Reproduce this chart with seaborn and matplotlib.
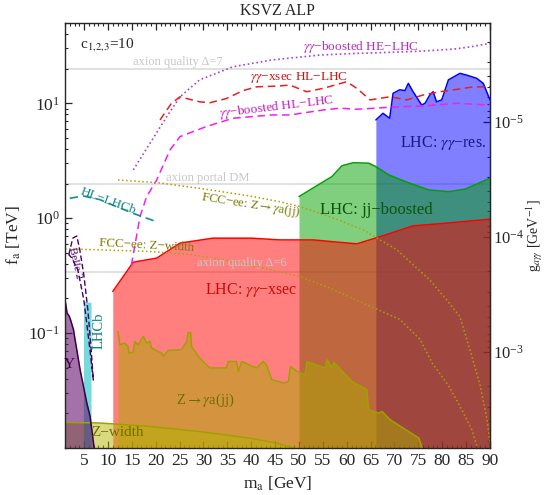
import numpy as np
import matplotlib.pyplot as plt
import matplotlib.ticker as mticker
import seaborn as sns

sns.set_style("ticks")
plt.rcParams['font.family'] = ['Liberation Serif', 'DejaVu Serif']
plt.rcParams['mathtext.fontset'] = 'stix'
plt.rcParams['axes.unicode_minus'] = True

# ---- data (m_a in GeV, f_a in TeV) ----
# LHC: gamma gamma resonance
blue_x = [66.1, 67.6, 69.0, 69.7, 71.1, 72.2, 72.9, 73.9, 75.7, 76.4, 77.4, 78.1, 78.8, 79.9, 81.3, 83.7, 85.1, 87.2, 88.6, 90.0]
blue_f = [7.16, 8.18, 7.41, 12.2, 13.1, 12.9, 14.9, 12.6, 9.66, 10.0, 11.8, 12.6, 10.3, 10.7, 16.0, 18.2, 17.6, 16.5, 14.9, 10.7]

# LHC: jj boosted
green_x = [50.0, 53.4, 56.9, 59.0, 61.4, 64.6, 66.1, 68.8, 72.3, 77.2, 81.4, 84.8, 87.6, 90.0]
green_f = [1.54, 1.88, 2.30, 2.86, 3.04, 3.01, 2.81, 2.38, 2.08, 1.76, 1.70, 1.79, 2.01, 2.23]

# LHC: gamma gamma xsec
red_x = [11.0, 15.3, 20.2, 25.1, 32.0, 40.0, 46.0, 53.0, 56.5, 62.1, 67.0, 73.9, 80.9, 90.0]
red_f = [0.23, 0.414, 0.449, 0.607, 0.67, 0.67, 0.647, 0.647, 0.627, 0.598, 0.69, 0.857, 0.905, 0.98]

# Z -> gamma a(jj)
zga_x = [12.1, 12.5, 13.5, 14.2, 14.4, 15.3, 15.6, 16.3, 17.4, 18.1, 18.8, 19.1, 21.2, 21.6, 22.6, 25.4,
         26.5, 26.8, 27.3, 27.5, 29.2, 31.3, 34.8, 35.2, 36.9, 37.3, 38.0, 41.1, 42.5, 43.2, 44.3, 46.8,
         47.8, 48.2, 49.6, 51.3, 51.7, 55.5, 55.9, 56.9, 57.3, 61.1, 64.2, 64.6, 66.7, 67.4, 69.1, 75.1, 75.8]
zga_f = [0.1033, 0.0791, 0.0818, 0.0764, 0.0670, 0.0678, 0.0845, 0.0791, 0.0933, 0.0818, 0.0845, 0.0741,
         0.0670, 0.0627, 0.0706, 0.0716, 0.0845, 0.1012, 0.1012, 0.0764, 0.0607, 0.0497, 0.0497, 0.0566,
         0.0566, 0.0463, 0.0566, 0.0497, 0.0566, 0.0530, 0.0393, 0.0367, 0.0379, 0.0513, 0.0463, 0.0434,
         0.0566, 0.0497, 0.0586, 0.0497, 0.0556, 0.0379, 0.0321, 0.0215, 0.0201, 0.0208, 0.0176, 0.0122, 0.0100]

# Z width
zw_x = [1.0, 8.3, 18.8, 29.2, 39.7, 45.3, 49.0]
zw_f = [0.0167, 0.0165, 0.0154, 0.0139, 0.0122, 0.0110, 0.0100]

# LHCb
lhcb_x = [4.85, 6.45]
lhcb_f = [0.19, 0.184]

# Upsilon
ups_x = [1.0, 1.44, 1.86, 2.15, 2.78, 3.11, 3.47, 4.16, 4.87, 5.57, 6.26, 6.61, 6.97, 7.1]
ups_f = [0.195, 0.149, 0.141, 0.131, 0.107, 0.0875, 0.0716, 0.048, 0.0343, 0.0246, 0.0188, 0.0144, 0.011, 0.01]

# Belle 2 contour
belle_x = [1.79, 2.63, 3.47, 4.10, 4.94, 5.78, 6.40, 6.93, 5.98, 4.94, 3.68, 2.42, 1.79]
belle_f = [0.48, 0.67, 0.70, 0.53, 0.321, 0.160, 0.079, 0.039, 0.087, 0.195, 0.355, 0.452, 0.48]

# projections
he_x = [15.3, 18.8, 22.3, 25.1, 29.2, 36.2, 44.3, 54.4, 61.4, 68.4, 75.4, 82.4, 85.9, 90.0]
he_f = [2.63, 4.49, 7.64, 11.4, 16.0, 20.8, 23.8, 26.3, 27.1, 27.7, 28.4, 29.6, 31.0, 33.2]

hlx_x = [20.9, 23.3, 25.1, 27.2, 29.2, 31.3, 34.8, 38.3, 41.1, 45.3, 48.1, 51.6, 55.1, 60.0, 62.1,
         64.9, 69.1, 72.6, 76.0, 79.5, 83.0, 86.5, 90.0]
hlx_f = [7.16, 10.0, 11.4, 10.8, 10.3, 10.1, 11.0, 12.9, 13.9, 14.1, 14.4, 12.6, 13.5, 15.4, 13.5,
         10.7, 11.4, 10.7, 11.8, 12.6, 13.2, 13.9, 13.9]

hlb_x = [14.9, 16.7, 18.1, 20.2, 23.0, 25.1, 30.6, 36.2, 44.3, 48.1, 55.1, 58.6, 62.1, 69.1, 76.0, 83.0, 90.0]
hlb_f = [0.39, 1.03, 1.54, 2.15, 3.93, 5.13, 6.27, 7.41, 7.91, 7.91, 8.75, 9.06, 8.87, 9.23, 9.48, 10.0, 9.66]

hllhcb_x = [2.0, 4.8, 8.3, 11.8, 15.3, 18.1, 20.2]
hllhcb_f = [1.49, 1.56, 1.45, 1.26, 1.10, 1.0, 0.93]

fcc_w_x = [1.0, 8.3, 18.8, 27.8, 36.2, 44.3, 50.2, 56.5, 63.5, 71.2, 75.4, 77.9, 81.4, 84.1, 86.2, 87.3]
fcc_w_f = [0.541, 0.530, 0.513, 0.480, 0.420, 0.355, 0.310, 0.246, 0.182, 0.131, 0.0875, 0.0548,
           0.0344, 0.0215, 0.0144, 0.0103]

fcc_z_x = [12.1, 20.2, 29.2, 39.7, 46.0, 50.2, 56.5, 63.5, 70.5, 77.4, 80.9, 83.7, 85.8, 87.9, 89.4, 90.0]
fcc_z_f = [2.15, 2.04, 1.82, 1.56, 1.39, 1.26, 1.03, 0.79, 0.53, 0.29, 0.195, 0.139, 0.0716, 0.0355, 0.0176, 0.0111]

# reference lines
quality7 = 20.0
portal_dm = 2.0
quality6 = 0.34

K_g = 6.87e-5  # g_agg = K_g / f_a

# ---- figure ----
fig = plt.figure(figsize=(5.44, 4.95), dpi=100)
ax = fig.add_axes([0.1195, 0.095, 0.7812, 0.8586])
ax.set_yscale('log')
ax.set_xlim(1, 90)
ax.set_ylim(0.01, 50)

for yv in [quality7, portal_dm, quality6]:
    ax.axhline(yv, color='0.86', lw=1.2, zorder=0)

ax.fill_between(blue_x, 0.01, blue_f, color='#0000ff', alpha=0.5, lw=0)
ax.fill_between(green_x, 0.01, green_f, color='#00a000', alpha=0.5, lw=0)
ax.fill_between(red_x, 0.01, red_f, color='#ff0000', alpha=0.5, lw=0)
ax.fill_between(zga_x, 0.01, zga_f, color='#aaaa00', alpha=0.5, lw=0)
ax.fill_between(zw_x, 0.01, zw_f, color='#b4b400', alpha=0.5, lw=0)
ax.fill_between(lhcb_x, 0.01, lhcb_f, color='#00bfbf', alpha=0.55, lw=0)
ax.fill_between(ups_x, 0.01, ups_f, color='#64146e', alpha=0.6, lw=0)

edges = [(blue_x, blue_f, '#0000ff'), (green_x, green_f, '#00a000'), (red_x, red_f, '#ff0000'),
         (zga_x, zga_f, '#a0a000'), (zw_x, zw_f, '#a0a000'), (ups_x, ups_f, '#3c0046')]
for xs, ys, c in edges:
    sns.lineplot(x=xs, y=ys, ax=ax, color=c, lw=1.1, sort=False, estimator=None)

sns.lineplot(x=he_x, y=he_f, ax=ax, color='#b040d0', lw=1.2, linestyle=':', sort=False, estimator=None)
sns.lineplot(x=hlx_x, y=hlx_f, ax=ax, color='#e82020', lw=1.1, linestyle=(0, (5, 3)), sort=False, estimator=None)
sns.lineplot(x=hlb_x, y=hlb_f, ax=ax, color='#f020f0', lw=1.1, linestyle=(0, (5, 3)), sort=False, estimator=None)
sns.lineplot(x=hllhcb_x, y=hllhcb_f, ax=ax, color='#109090', lw=1.2, linestyle=(0, (5, 3)), sort=False, estimator=None)
sns.lineplot(x=fcc_w_x, y=fcc_w_f, ax=ax, color='#b0a000', lw=1.1, linestyle=':', sort=False, estimator=None)
sns.lineplot(x=fcc_z_x, y=fcc_z_f, ax=ax, color='#b0a000', lw=1.1, linestyle=':', sort=False, estimator=None)
sns.lineplot(x=belle_x, y=belle_f, ax=ax, color='#4b0060', lw=1.0, linestyle=(0, (4, 2)), sort=False, estimator=None)

# ---- labels ----
gray = '0.78'
ax.text(24.6, 22.9, 'axion quality Δ=7', color=gray, fontsize=9, ha='center', va='center')
ax.text(30.9, 2.24, 'axion portal DM', color=gray, fontsize=9, ha='center', va='center')
ax.text(38.0, 0.406, 'axion quality Δ=6', color=gray, fontsize=9, ha='center', va='center')
ax.text(63.0, 30.9, r'$\gamma\gamma$−boosted HE−LHC', color='#b030c0', fontsize=9.5, ha='center', va='center')
ax.text(50.0, 16.6, r'$\gamma\gamma$−xsec HL−LHC', color='#c81414', fontsize=9.5, ha='center', va='center')
ax.text(45.2, 9.27, r'$\gamma\gamma$−boosted HL−LHC', color='#c020c0', fontsize=9.5, ha='center', va='center', rotation=7)
ax.text(80.1, 4.49, r'LHC: $\gamma\gamma$−res.', color='#181880', fontsize=11.5, ha='center', va='center')
ax.text(66.1, 1.18, 'LHC: jj−boosted', color='#0a550a', fontsize=12, ha='center', va='center')
ax.text(40.1, 0.238, r'LHC: $\gamma\gamma$−xsec', color='#c80a0a', fontsize=11.5, ha='center', va='center')
ax.text(39.9, 1.31, r'FCC−ee: Z$\rightarrow\gamma$a(jj)', color='#7a7a00', fontsize=9.2, ha='center', va='center', rotation=-9)
ax.text(18.0, 0.574, 'FCC−ee: Z−width', color='#7a7a00', fontsize=9.4, ha='center', va='center', rotation=-3)
ax.text(10.0, 1.41, 'HL−LHCb', color='#108888', fontsize=9.5, ha='center', va='center', rotation=-20)
ax.text(3.05, 0.408, 'Belle 2', color='#4b0060', fontsize=8, ha='center', va='center', rotation=-77)
ax.text(8.08, 0.105, 'LHCb', color='#108080', fontsize=10.5, ha='center', va='center', rotation=90)
ax.text(1.86, 0.053, 'Υ', color='#3c0046', fontsize=11, ha='center', va='center')
ax.text(30.3, 0.0258, r'Z$\rightarrow\gamma$a(jj)', color='#6e6e00', fontsize=10.5, ha='center', va='center')
ax.text(12.1, 0.0135, 'Z−width', color='#6e6e00', fontsize=11, ha='center', va='center')
ax.text(0.035, 0.95, r'c$_{1{,}2{,}3}$=10', transform=ax.transAxes, fontsize=11, ha='left', va='center')

ax.set_title('KSVZ ALP', fontsize=11.5, pad=6)
ax.set_xlabel(r'm$_{\rm a}$ [GeV]', fontsize=12.5, labelpad=4)
ax.set_ylabel(r'f$_{\rm a}$ [TeV]', fontsize=12.5, labelpad=4)

ax.xaxis.set_major_locator(mticker.MultipleLocator(5))
ax.xaxis.set_minor_locator(mticker.MultipleLocator(1))
ax.set_yticks([0.1, 1, 10])
ax.yaxis.set_minor_locator(mticker.LogLocator(subs=np.arange(2, 10)))
ax.yaxis.set_minor_formatter(mticker.NullFormatter())
ax.tick_params(which='both', direction='in', top=True, right=False, labelsize=12.5)
ax.tick_params(which='major', length=5, width=0.9)
ax.tick_params(which='minor', length=2.5, width=0.8)

sec = ax.secondary_yaxis('right', functions=(lambda f: K_g / f, lambda g: K_g / g))
sec.set_yticks([1e-5, 1e-4, 1e-3])
sec.yaxis.set_major_formatter(mticker.LogFormatterSciNotation())
sec.yaxis.set_minor_locator(mticker.LogLocator(subs=np.arange(2, 10)))
sec.yaxis.set_minor_formatter(mticker.NullFormatter())
sec.tick_params(which='both', direction='in', labelsize=12, pad=2)
sec.tick_params(which='major', length=5, width=0.9)
sec.tick_params(which='minor', length=2.5, width=0.8)
fig.text(0.984, 0.524, r'g$_{a\gamma\gamma}$ [GeV$^{-1}$]', fontsize=10, rotation=90,
         ha='center', va='center')

for sp in ax.spines.values():
    sp.set_linewidth(1.0)

fig.savefig('out.png', dpi=100)
